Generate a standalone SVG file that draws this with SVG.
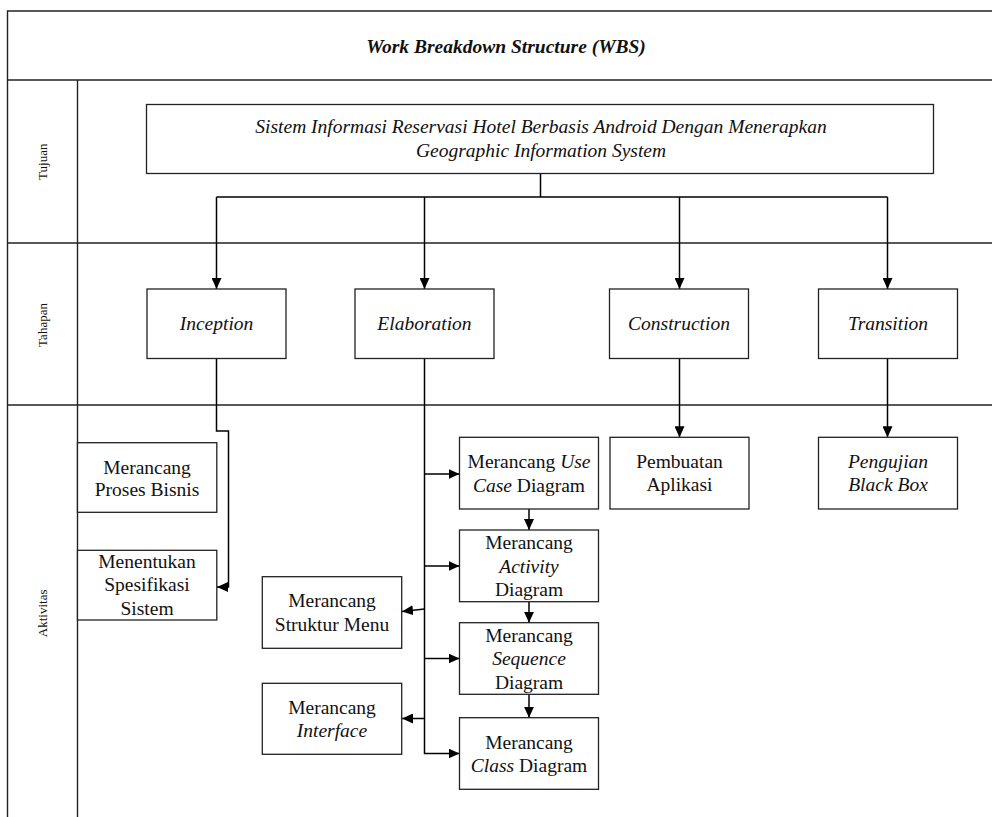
<svg xmlns="http://www.w3.org/2000/svg" width="992" height="817" viewBox="0 0 992 817">
  <style>
    .lane { stroke: #222; stroke-width: 1.4; fill: none; }
    .box { fill: #fff; stroke: #222; stroke-width: 1.3; }
    .wire { stroke: #000; stroke-width: 1.5; fill: none; }
    .arrow { marker-end: url(#ah); }
    text { font-family: "Liberation Serif", "Times New Roman", serif; fill: #111; text-anchor: middle; }
    .t { font-size: 19.5px; }
    .i { font-style: italic; }
    .side { font-size: 13px; }
    .title { font-size: 19.5px; font-weight: bold; font-style: italic; }
  </style>
  <defs>
    <marker id="ah" viewBox="0 0 11 10" refX="11" refY="5" markerWidth="11" markerHeight="10" markerUnits="userSpaceOnUse" orient="auto">
      <path d="M0,0 L11,5 L0,10 z" fill="#000"/>
    </marker>
  </defs>

  <rect width="992" height="817" fill="#fff"/>

  <!-- swimlane frame -->
  <g id="frame">
    <path class="lane" d="M992,11 H7.5 V817"/>
    <path class="lane" d="M7.5,80 H992 M7.5,243 H992 M7.5,405 H992"/>
    <path class="lane" d="M77.5,80 V817"/>
    <text class="title" x="506" y="52.5">Work Breakdown Structure (WBS)</text>
    <text class="side" transform="translate(46.5,161.7) rotate(-90)">Tujuan</text>
    <text class="side" transform="translate(46.5,325) rotate(-90)">Tahapan</text>
    <text class="side" transform="translate(46.5,613.3) rotate(-90)">Aktivitas</text>
  </g>

  <!-- connectors -->
  <g id="connectors">
    <path class="wire" d="M540.5,173.5 V197 M216.5,197 H887.5"/>
    <path class="wire arrow" d="M216.5,197 V289"/>
    <path class="wire arrow" d="M424.5,197 V289"/>
    <path class="wire arrow" d="M679.5,197 V289"/>
    <path class="wire arrow" d="M887.5,197 V289"/>
    <path class="wire arrow" d="M216.5,358.5 V431 H228.5 V587 H217"/>
    <path class="wire arrow" d="M424.5,358.5 V753.5 H459.5"/>
    <path class="wire arrow" d="M424.5,474 H459.5"/>
    <path class="wire arrow" d="M424.5,566 H459.5"/>
    <path class="wire arrow" d="M424.5,658.5 H459.5"/>
    <path class="wire arrow" d="M424.5,609 L402,611.5"/>
    <path class="wire arrow" d="M424.5,718.5 H402"/>
    <path class="wire arrow" d="M679.5,358.5 V437.3"/>
    <path class="wire arrow" d="M887.5,358.5 V437.3"/>
    <path class="wire arrow" d="M529,509 V530"/>
    <path class="wire arrow" d="M529,601.7 V622.7"/>
    <path class="wire arrow" d="M529,694.3 V717.7"/>
  </g>

  <!-- goal -->
  <g id="goal">
    <rect class="box" x="146.5" y="104.5" width="787" height="69"/>
    <text class="t i" x="541" y="132.5">Sistem Informasi Reservasi Hotel Berbasis Android Dengan Menerapkan</text>
    <text class="t i" x="541" y="157">Geographic Information System</text>
  </g>

  <!-- phases -->
  <g id="inception">
    <rect class="box" x="147" y="289" width="139" height="69.5"/>
    <text class="t i" x="216.5" y="330">Inception</text>
  </g>
  <g id="elaboration">
    <rect class="box" x="355" y="289" width="139" height="69.5"/>
    <text class="t i" x="424.5" y="330">Elaboration</text>
  </g>
  <g id="construction">
    <rect class="box" x="609.5" y="289" width="139" height="69.5"/>
    <text class="t i" x="679" y="330">Construction</text>
  </g>
  <g id="transition">
    <rect class="box" x="818.5" y="289" width="139" height="69.5"/>
    <text class="t i" x="888" y="330">Transition</text>
  </g>

  <!-- activities -->
  <g id="proses-bisnis">
    <rect class="box" x="77.5" y="442.7" width="139.3" height="69.6"/>
    <text class="t" x="147" y="473.5">Merancang</text>
    <text class="t" x="147" y="496">Proses Bisnis</text>
  </g>
  <g id="spesifikasi">
    <rect class="box" x="77.5" y="550.3" width="139.3" height="69.7"/>
    <text class="t" x="147" y="567.5">Menentukan</text>
    <text class="t" x="147" y="591">Spesifikasi</text>
    <text class="t" x="147" y="614.5">Sistem</text>
  </g>
  <g id="use-case">
    <rect class="box" x="459.5" y="437.3" width="139" height="71.7"/>
    <text class="t" x="529" y="468.3">Merancang <tspan class="i">Use</tspan></text>
    <text class="t" x="529" y="491.5"><tspan class="i">Case</tspan> Diagram</text>
  </g>
  <g id="activity">
    <rect class="box" x="459.5" y="530" width="139" height="71.7"/>
    <text class="t" x="529" y="549">Merancang</text>
    <text class="t i" x="529" y="572.5">Activity</text>
    <text class="t" x="529" y="596">Diagram</text>
  </g>
  <g id="sequence">
    <rect class="box" x="459.5" y="622.7" width="139" height="71.6"/>
    <text class="t" x="529" y="642.3">Merancang</text>
    <text class="t i" x="529" y="665.3">Sequence</text>
    <text class="t" x="529" y="688.5">Diagram</text>
  </g>
  <g id="class">
    <rect class="box" x="459.5" y="717.7" width="139" height="71.6"/>
    <text class="t" x="529" y="749">Merancang</text>
    <text class="t" x="529" y="772"><tspan class="i">Class</tspan> Diagram</text>
  </g>
  <g id="struktur-menu">
    <rect class="box" x="262.3" y="576.7" width="139.4" height="71.6"/>
    <text class="t" x="332" y="607.3">Merancang</text>
    <text class="t" x="332" y="630.5">Struktur Menu</text>
  </g>
  <g id="interface">
    <rect class="box" x="262.3" y="683.3" width="139.4" height="71"/>
    <text class="t" x="332" y="714">Merancang</text>
    <text class="t i" x="332" y="737.3">Interface</text>
  </g>
  <g id="pembuatan">
    <rect class="box" x="610" y="437.3" width="139" height="71.7"/>
    <text class="t" x="679.5" y="468.3">Pembuatan</text>
    <text class="t" x="679.5" y="491.3">Aplikasi</text>
  </g>
  <g id="pengujian">
    <rect class="box" x="818.5" y="437.3" width="139" height="71.7"/>
    <text class="t i" x="888" y="468.3">Pengujian</text>
    <text class="t i" x="888" y="491.3">Black Box</text>
  </g>
</svg>
